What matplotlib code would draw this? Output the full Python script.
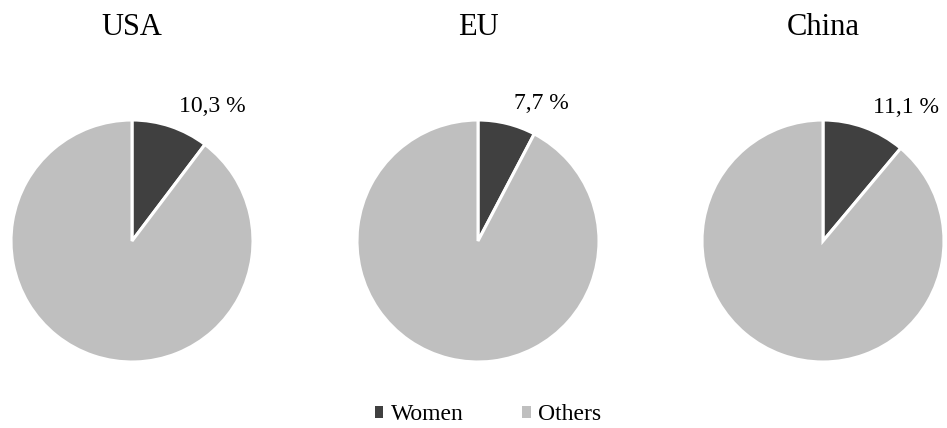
import numpy as np
import matplotlib.pyplot as plt
from matplotlib.patches import Patch

plt.rcParams["font.family"] = ["Liberation Serif", "DejaVu Serif"]

# Share of women vs. others per region (percent)
REGIONS = ["USA", "EU", "China"]
WOMEN = [10.3, 7.7, 11.1]
OTHERS = [89.7, 92.3, 88.9]
LABELS = ["Women", "Others"]
COLORS = ["#404040", "#bfbfbf"]

W, H = 947, 428
CENTERS_X = [132, 478, 823]
CENTER_Y = 241
RADIUS = 121


def fmt_pct(v):
    return f"{v:.1f} %".replace(".", ",")


def main():
    fig = plt.figure(figsize=(W / 100, H / 100), dpi=100)

    for name, cx, w, o in zip(REGIONS, CENTERS_X, WOMEN, OTHERS):
        ax = fig.add_axes([(cx - RADIUS) / W, (H - CENTER_Y - RADIUS) / H,
                           2 * RADIUS / W, 2 * RADIUS / H])
        wedges, _ = ax.pie([w, o], colors=COLORS, startangle=90, counterclock=False,
                           radius=1, wedgeprops=dict(edgecolor="white", linewidth=2.2))
        # outside-end label for the women slice, anchored at its mid angle
        wd = wedges[0]
        mid = np.deg2rad((wd.theta1 + wd.theta2) / 2)
        r = 1.125
        ax.annotate(fmt_pct(w), (r * np.cos(mid), r * np.sin(mid)), xytext=(2.5, 0),
                    textcoords="offset points", ha="left", va="baseline",
                    fontsize=17, annotation_clip=False)
        ax.set_xlim(-1, 1)
        ax.set_ylim(-1, 1)
        ax.set_aspect("equal")
        ax.axis("off")
        fig.text(cx / W, 1 - 35 / H, name, ha="center", va="baseline", fontsize=22)

    handles = [Patch(facecolor=c, edgecolor="none") for c in COLORS]
    fig.legend(handles, LABELS, loc="center", bbox_to_anchor=(488 / W, 1 - 415 / H),
               ncol=2, frameon=False, fontsize=17, handlelength=0.36, handleheight=0.36,
               handletextpad=0.3, columnspacing=2.5)

    fig.savefig("out.png", dpi=100)


if __name__ == "__main__":
    main()
